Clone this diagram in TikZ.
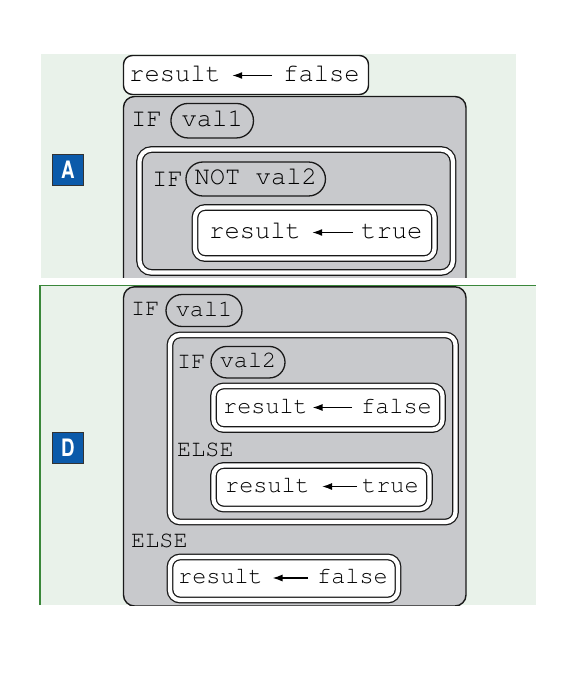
\documentclass[tikz,border=0pt]{standalone}
\usepackage[T1]{fontenc}
\usepackage{courier}
\usetikzlibrary{arrows.meta}
\definecolor{panelgreen}{HTML}{E9F2EA}
\definecolor{framegreen}{HTML}{3A873A}
\definecolor{boxgray}{HTML}{C8C9CC}
\definecolor{tagblue}{HTML}{0B5AAA}
\newcommand{\bigcode}{\ttfamily\fontsize{25.5}{28}\selectfont}
\newcommand{\smallcode}{\ttfamily\fontsize{23.5}{26}\selectfont}

\begin{document}
\begin{tikzpicture}[x=1pt, y=-1pt,
    code/.style={inner sep=0pt, anchor=base west, text height=11pt, text depth=0pt, text=black},
    pill/.style={draw=black!90, line width=1.3pt, fill=boxgray, inner sep=0pt, text height=11pt, text depth=0pt, text=black},
    block/.style={draw=black!90, line width=1.4pt, rounded corners=11pt},
    dbox/.style={draw=black!90, line width=1.25pt, double=white, double distance=4.3pt, rounded corners=10pt},
    gets/.style={-{Latex[length=10pt, width=7pt]}, line width=1.4pt, black},
    tag/.style={draw=black!80, line width=1pt, fill=tagblue, minimum size=31pt, inner sep=0pt, text=white, font=\fontfamily{phv}\fontseries{b}\fontsize{24}{24}\selectfont}]
  \useasboundingbox (0,0) rectangle (572,688);
  \fill[panelgreen] (41,54) rectangle (516,277.5);
  \fill[panelgreen] (40,285) rectangle (536,605);
  \draw[framegreen, line width=1.2pt] (40,605) -- (40,285.5) -- (536,285.5);

  % panel A
  \node[tag] (tagA) at (68,170) {\scalebox{0.78}[1]{A}};
  \begin{scope}[font=\bigcode]
    \clip (41,54) rectangle (516,277.5);
    \draw[block, fill=white, rounded corners=9pt] (123.5,55.5) rectangle (368.5,94.5);
    \node[code] (resA) at (129,81) {result};
    \node[code] (falseA) at (283,81) {false};
    \draw[gets, shorten <=11pt, shorten >=11pt] (falseA.west) -- (resA.east);

    \draw[block, fill=boxgray] (123.5,96.5) rectangle (466,300);
    \node[code] (ifA) at (131,126) {IF};
    \node[pill, minimum width=82.5pt, minimum height=34.5pt, rounded corners=17pt] (valA) at (212.2,120.7) {val1};

    \draw[dbox, fill=boxgray, rounded corners=12pt] (139.5,149.5) rectangle (453,272.5);
    \node[code] (ifNotA) at (152,186) {IF};
    \node[pill, minimum width=139.5pt, minimum height=34pt, rounded corners=17pt] (notA) at (255.7,179) {NOT val2};

    \draw[dbox, fill=white] (195,207.5) rectangle (434.5,258.5);
    \node[code] (resTrueA) at (209,238) {result};
    \node[code] (trueA) at (361,238) {true};
    \draw[gets, shorten <=8pt, shorten >=11pt] (trueA.west) -- (resTrueA.east);
  \end{scope}

  % panel D
  \node[tag] (tagD) at (68,447.5) {\scalebox{0.78}[1]{D}};
  \begin{scope}[font=\smallcode]
    \clip (39,285) rectangle (537,605.5);
    \draw[block, fill=boxgray] (123.5,286.8) rectangle (466,606);
    \node[code] (ifD) at (131,315) {IF};
    \node[pill, minimum width=76pt, minimum height=32pt, rounded corners=16pt] (valD) at (204,310.5) {val1};

    \draw[dbox, fill=boxgray] (170,335) rectangle (455.5,522);
    \node[code] (ifInD) at (177,368) {IF};
    \node[pill, minimum width=74pt, minimum height=31.5pt, rounded corners=15.7pt] (valTwoD) at (248,362.2) {val2};

    \draw[dbox, fill=white] (213.5,386) rectangle (442.5,429.5);
    \node[code] (resFalseD) at (223,413) {result};
    \node[code] (falseD) at (361,413) {false};
    \draw[gets, shorten <=9pt, shorten >=4.5pt] (falseD.west) -- (resFalseD.east);

    \node[code] (elseInD) at (177,456) {ELSE};
    \draw[dbox, fill=white] (213.5,465.5) rectangle (429.5,509);
    \node[code] (resTrueD) at (225,492) {result};
    \node[code] (trueD) at (362,492) {true};
    \draw[gets, shorten <=5pt, shorten >=12pt] (trueD.west) -- (resTrueD.east);

    \node[code] (elseD) at (131,547) {ELSE};
    \draw[dbox, fill=white] (170,557) rectangle (398,600);
    \node[code] (resElseD) at (178,583.5) {result};
    \node[code] (falseElseD) at (317,583.5) {false};
    \draw[gets, shorten <=9pt, shorten >=9.5pt] (falseElseD.west) -- (resElseD.east);
  \end{scope}
\end{tikzpicture}
\end{document}
